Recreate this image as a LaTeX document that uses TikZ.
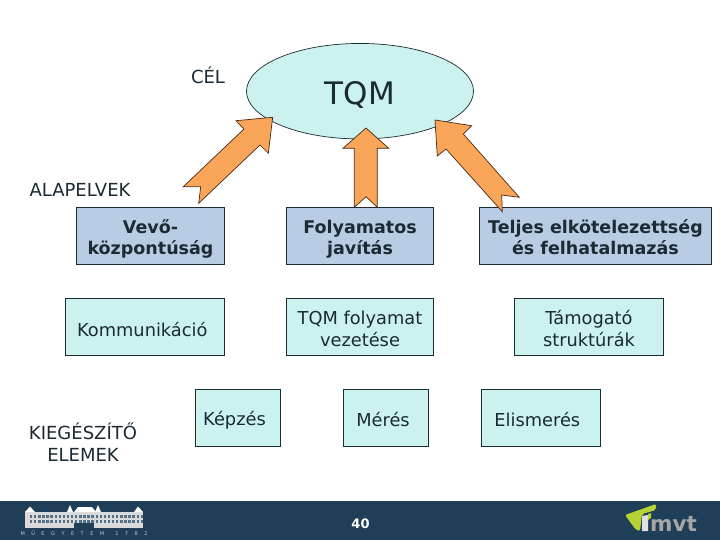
\documentclass[tikz,border=0pt]{standalone}
\usepackage{fontspec}
\setmainfont{DejaVu Sans}
\usepackage{tikz}
\usetikzlibrary{calc,positioning,shapes.geometric}
\definecolor{inkdark}{HTML}{1B2A33}
\definecolor{paleaqua}{HTML}{CCF2F0}
\definecolor{paleblue}{HTML}{B8CCE4}
\definecolor{arroworange}{HTML}{F9A65A}
\definecolor{arrowedge}{HTML}{4A2A10}
\definecolor{footerblue}{HTML}{1F3F58}
\definecolor{logolime}{HTML}{B5D334}
\begin{document}
\begin{tikzpicture}[
  x=1pt,y=-1pt,
  goal/.style={ellipse,draw=inkdark,fill=paleaqua,line width=0.7pt,inner sep=0pt,text=inkdark,
    minimum width=227pt,minimum height=95.5pt,font=\fontsize{31}{36}\selectfont},
  mainbox/.style={rectangle,draw=inkdark,fill=paleblue,line width=0.8pt,inner sep=0pt,align=center,
    minimum height=57.5pt,text=inkdark,font=\fontsize{17.5}{21}\selectfont\bfseries},
  sidebox/.style={rectangle,draw=inkdark,fill=paleaqua,line width=0.8pt,inner sep=0pt,align=center,
    minimum height=57pt,text=inkdark,font=\fontsize{17.8}{21.5}\selectfont},
  heading/.style={align=center,inner sep=0pt,text=inkdark,font=\fontsize{18}{22}\selectfont},
  blockarrow/.style={draw=arrowedge,fill=arroworange,line width=0.7pt,line join=miter},
  window/.style={draw=none,fill=footerblue!75,minimum width=2.4pt,minimum height=3pt,inner sep=0pt}
]
\useasboundingbox (0,0) rectangle (720,540);
\fill[white] (0,0) rectangle (720,540);
% goal
\node[goal] (tqm) at (360,91.2) {\rule{0pt}{31pt}TQM};
\node[heading] (cel) at (208,75) {CÉL};
\node[heading] (alapelvek) at (80,189.5) {ALAPELVEK};
% row of principles
\node[mainbox,minimum width=148pt] (vevo) at (150.5,235.8) {\rule{0pt}{21pt}Vevő-\\központúság};
\node[mainbox,minimum width=147.5pt] (javitas) at (360,235.8) {\rule{0pt}{20pt}Folyamatos\\javítás};
\node[mainbox,minimum width=232.5pt] (teljes) at (595.5,235.8) {\rule{0pt}{17pt}Teljes elkötelezettség\\és felhatalmazás};
% second row
\node[sidebox,minimum width=159.5pt] (komm) at (144.8,326.8) {\rule{0pt}{19.5pt}Kommunikáció\kern5pt};
\node[sidebox,minimum width=147.5pt] (vezetes) at (360,326.8) {\rule{0pt}{18pt}TQM folyamat\\vezetése};
\node[sidebox,minimum width=149.5pt] (tamogato) at (589,326.8) {\rule{0pt}{17.5pt}Támogató\\struktúrák};
% supplementary elements
\node[heading] (kieg) at (83,442.5) {KIEGÉSZÍTŐ\\ELEMEK};
\node[sidebox,minimum width=85.5pt] (kepzes) at (238,417.4) {\rule{0pt}{19.5pt}Képzés\kern7pt};
\node[sidebox,minimum width=85.5pt] (meres) at (386,417.4) {\rule{0pt}{18pt}Mérés\kern6pt};
\node[sidebox,minimum width=119.5pt] (elismeres) at (540.8,417.4) {\rule{0pt}{18pt}Elismerés\kern7pt};
% block arrows
\draw[blockarrow] (272.7,117.3) -- (236,120.7) -- (244,129) -- (183.3,186.7) -- (200.7,186.7)
  -- (198.7,203.3) -- (260,145) -- (268.3,153.3) -- cycle;
\draw[blockarrow] (366,128) -- (343,148.3) -- (354.3,148.3) -- (354.3,207.3) -- (366,196.7)
  -- (377.3,207.3) -- (377.3,148.3) -- (388.7,148.3) -- cycle;
\draw[blockarrow] (435,120) -- (471.7,125.7) -- (463.3,134) -- (519.3,197.3) -- (501.7,195)
  -- (502.3,211.7) -- (446,149) -- (437.3,156) -- cycle;
% footer
\fill[footerblue] (0,501) rectangle (720,540);
\node[text=white,inner sep=0pt,font=\fontsize{13}{15}\selectfont\bfseries] (page) at (360.5,523.5) {40};
% building
\fill[black!15] (25,512) rectangle (143,528);
\fill[white] (25,512) -- (30,506.5) -- (35,512) -- cycle;
\fill[white] (134,512) -- (138,506.5) -- (143,512) -- cycle;
\fill[white] (67,512) -- (70,505) -- (73,512) -- cycle;
\fill[white] (95,512) -- (98,505) -- (101,512) -- cycle;
\fill[white] (74,512) -- (78,507) -- (92,507) -- (96,512) -- cycle;
\foreach \c in {1,...,28}{
  \foreach \r in {0,1}{
    \node[window] (win\c-\r) at (27+4.1*\c,516+5*\r) {};
  }
}
\fill[footerblue] (74,523) rectangle (94,528);
\node[text=black!22,inner sep=0pt,font=\fontsize{5}{6}\selectfont] (muegyetem) at (84,533.5)
  {M\hspace{6.5pt}Ű\hspace{6.5pt}E\hspace{6.5pt}G\hspace{6.5pt}Y\hspace{6.5pt}E\hspace{6.5pt}T\hspace{6.5pt}E\hspace{6.5pt}M\hspace{11pt}1\hspace{6.5pt}7\hspace{6.5pt}8\hspace{6.5pt}2};
% logo
\fill[logolime,rounded corners=2pt] (625,515) -- (656,504) -- (656,510) -- (642,514) -- (640,531) -- (636,530) -- cycle;
\fill[black!12] (642,516) -- (648,515) -- (648,531) -- (642,531) -- cycle;
\fill[logolime] (648,514) -- (651,513) -- (651,518) -- (648,520) -- cycle;
\node[anchor=base west,text=black!35,inner sep=0pt,font=\fontsize{21.5}{22}\selectfont\bfseries] (mvt) at (650,531) {mvt};
\end{tikzpicture}
\end{document}
